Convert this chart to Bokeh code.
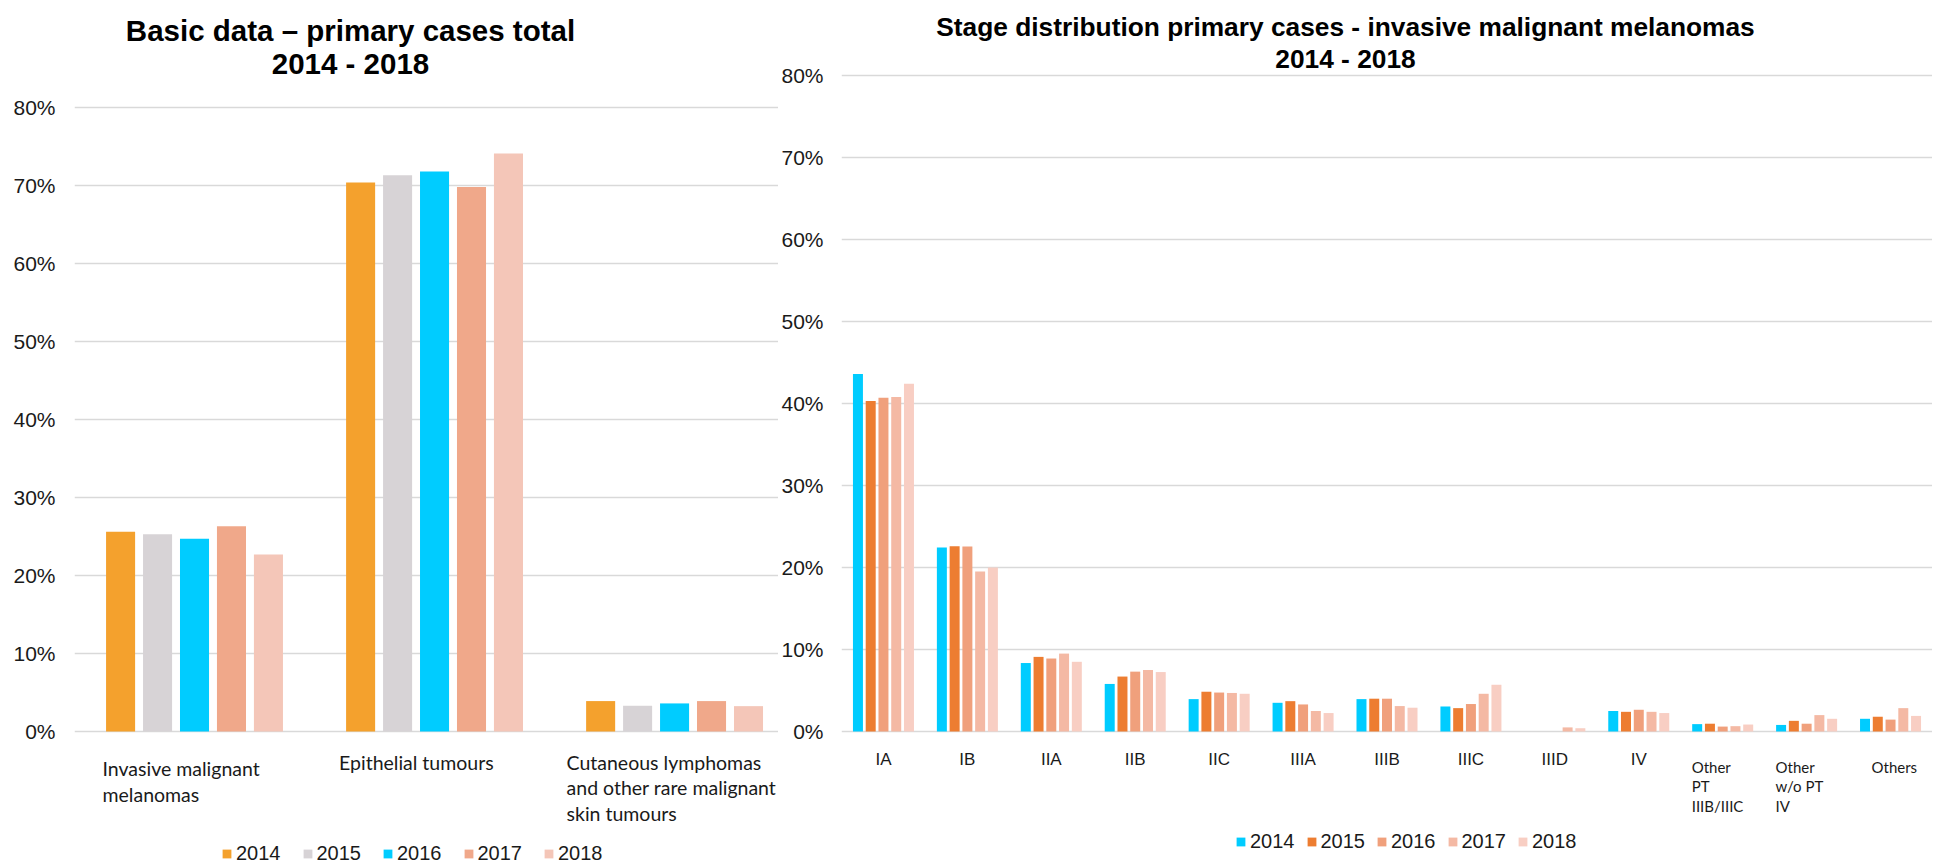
from bokeh.plotting import figure
from bokeh.models import (Range1d, FactorRange, ColumnDataSource, FixedTicker,
                          PrintfTickFormatter, Label, Legend, LegendItem)
from bokeh.layouts import row
from bokeh.transform import dodge
from bokeh.embed import file_html
from bokeh.resources import INLINE

# ---------------- data ----------------
years = ["2014", "2015", "2016", "2017", "2018"]

basic_categories = ["Invasive malignant melanomas", "Epithelial tumours",
                    "Cutaneous lymphomas and other rare malignant skin tumours"]
basic_label_lines = [["Invasive malignant", "melanomas"],
                     ["Epithelial tumours"],
                     ["Cutaneous lymphomas", "and other rare malignant", "skin tumours"]]
basic_2014 = [25.6, 70.4, 3.9]
basic_2015 = [25.3, 71.3, 3.3]
basic_2016 = [24.7, 71.8, 3.6]
basic_2017 = [26.3, 69.8, 3.9]
basic_2018 = [22.7, 74.1, 3.25]

stage_categories = ["IA", "IB", "IIA", "IIB", "IIC", "IIIA", "IIIB", "IIIC", "IIID", "IV",
                    "Other PT IIIB/IIIC", "Other w/o PT IV", "Others"]
stage_label_lines = [["IA"], ["IB"], ["IIA"], ["IIB"], ["IIC"], ["IIIA"], ["IIIB"], ["IIIC"],
                     ["IIID"], ["IV"], ["Other", "PT", "IIIB/IIIC"], ["Other", "w/o PT", "IV"],
                     ["Others"]]
stage_2014 = [43.6, 22.45, 8.35, 5.8, 3.95, 3.5, 3.95, 3.05, 0.0, 2.5, 0.9, 0.8, 1.55]
stage_2015 = [40.3, 22.6, 9.1, 6.7, 4.85, 3.7, 4.0, 2.85, 0.0, 2.4, 0.95, 1.3, 1.8]
stage_2016 = [40.7, 22.55, 8.9, 7.3, 4.75, 3.3, 4.0, 3.35, 0.0, 2.65, 0.6, 0.95, 1.45]
stage_2017 = [40.8, 19.5, 9.5, 7.5, 4.7, 2.5, 3.1, 4.6, 0.5, 2.4, 0.65, 2.0, 2.85]
stage_2018 = [42.4, 20.0, 8.5, 7.25, 4.6, 2.25, 2.9, 5.7, 0.4, 2.25, 0.85, 1.55, 1.9]

y_ticks = [0, 10, 20, 30, 40, 50, 60, 70, 80]

# ---------------- styles ----------------
basic_colors = ["#F4A12D", "#D7D3D6", "#00CCFF", "#F0A88A", "#F4C6B8"]
stage_colors = ["#00CCFF", "#ED7D31", "#F0A07C", "#F4B9A4", "#F8CEC3"]
AXIS_FONT = "Liberation Sans"
CAT_FONT = "Lato"
TXT = "#1a1a1a"
GRID = "#D9D9D9"
H = 865


def style_common(p, standoff):
    p.outline_line_color = None
    p.background_fill_color = "white"
    p.border_fill_color = "white"
    p.xaxis.visible = False
    p.xgrid.visible = False
    p.yaxis.ticker = FixedTicker(ticks=y_ticks)
    p.yaxis.formatter = PrintfTickFormatter(format="%d%%")
    p.yaxis.axis_line_color = None
    p.yaxis.major_tick_line_color = None
    p.yaxis.minor_tick_line_color = None
    p.yaxis.major_tick_out = 0
    p.yaxis.major_tick_in = 0
    p.yaxis.major_label_standoff = standoff
    p.yaxis.major_label_text_font = AXIS_FONT
    p.yaxis.major_label_text_font_size = "21px"
    p.yaxis.major_label_text_color = TXT
    p.ygrid.grid_line_color = GRID
    p.ygrid.grid_line_width = 1.6


def make_legend(renderers, x, y, spacing):
    return Legend(items=[LegendItem(label=yr, renderers=[r]) for yr, r in zip(years, renderers)],
                  orientation="horizontal", location=(x, y),
                  glyph_width=11, glyph_height=11, label_standoff=4, spacing=spacing,
                  padding=0, margin=0, border_line_color=None, background_fill_alpha=0,
                  label_text_font=AXIS_FONT, label_text_font_size="20px",
                  label_text_color=TXT, label_height=11)


# ---------------- left chart ----------------
# frame spans the whole figure height; 0% sits 134 px above the bottom, 80% 107 px below the top
p1 = figure(width=778, height=H, x_range=Range1d(-0.5, 2.433),
            y_range=Range1d(-134 / 7.8, 80 + 107 / 7.8),
            output_backend="svg", toolbar_location=None,
            min_border_left=74, min_border_right=0, min_border_top=0, min_border_bottom=0)
style_common(p1, 19)

src1 = ColumnDataSource(dict(idx=list(range(len(basic_categories))), cat=basic_categories,
                             y2014=basic_2014, y2015=basic_2015, y2016=basic_2016,
                             y2017=basic_2017, y2018=basic_2018))
r1 = []
for j, yr in enumerate(years):
    r = p1.vbar(x=dodge("idx", (j - 2) * 0.154), top="y" + yr, width=0.121, bottom=0,
                source=src1, fill_color=basic_colors[j], line_color=None)
    r1.append(r)

for text, dy in [("Basic data \u2013 primary cases total", 77), ("2014 - 2018", 43.7)]:
    p1.add_layout(Label(x=-0.5, y=80, x_offset=276, y_offset=dy, text=text,
                        text_font=AXIS_FONT, text_font_style="bold", text_font_size="29.5px",
                        text_align="center", text_baseline="alphabetic", text_color="black"))

basic_label_dx = [-92, -95.5, -108]
basic_label_dy = [-37.3, -30.6, -30.6]
for i, lines in enumerate(basic_label_lines):
    for k, line in enumerate(lines):
        p1.add_layout(Label(x=i, y=0, x_offset=basic_label_dx[i],
                            y_offset=basic_label_dy[i] - 25.5 * k, text=line,
                            text_font=CAT_FONT, text_font_size="19.5px", text_align="left",
                            text_baseline="alphabetic", text_color=TXT))

p1.add_layout(make_legend(r1, 147, 0, 21))

# ---------------- right chart ----------------
p2 = figure(width=1154, height=H, x_range=FactorRange(factors=stage_categories, range_padding=0),
            y_range=Range1d(-134 / 8.2, 80 + 75 / 8.2), output_backend="svg",
            toolbar_location=None,
            min_border_left=60, min_border_right=0, min_border_top=0, min_border_bottom=0)
style_common(p2, 18)

src2 = ColumnDataSource(dict(stage=stage_categories,
                             y2014=stage_2014, y2015=stage_2015, y2016=stage_2016,
                             y2017=stage_2017, y2018=stage_2018))
r2 = []
for j, yr in enumerate(years):
    r = p2.vbar(x=dodge("stage", (j - 2) * 0.152, range=p2.x_range), top="y" + yr,
                width=0.119, bottom=0, source=src2, fill_color=stage_colors[j], line_color=None)
    r2.append(r)

for text, dy in [("Stage distribution primary cases - invasive malignant melanomas", 48.3),
                 ("2014 - 2018", 16.7)]:
    p2.add_layout(Label(x=0, y=80, x_offset=504, y_offset=dy, text=text,
                        text_font=AXIS_FONT, text_font_style="bold", text_font_size="26.3px",
                        text_align="center", text_baseline="alphabetic", text_color="black"))

special_dx = {10: -31, 11: -31, 12: -19}
for i, lines in enumerate(stage_label_lines):
    if i in special_dx:
        for k, line in enumerate(lines):
            p2.add_layout(Label(x=i + 0.5, y=0, x_offset=special_dx[i], y_offset=-35 - 19.6 * k,
                                text=line, text_font=CAT_FONT, text_font_size="15px",
                                text_align="left", text_baseline="alphabetic", text_color=TXT))
    else:
        p2.add_layout(Label(x=i + 0.5, y=0, y_offset=-28, text=lines[0],
                            text_font=AXIS_FONT, text_font_size="17px", text_align="center",
                            text_baseline="alphabetic", text_color=TXT))

p2.add_layout(make_legend(r2, 394, 12, 11))

layout = row(p1, p2)
open("out.html", "w").write(file_html(layout, INLINE))
